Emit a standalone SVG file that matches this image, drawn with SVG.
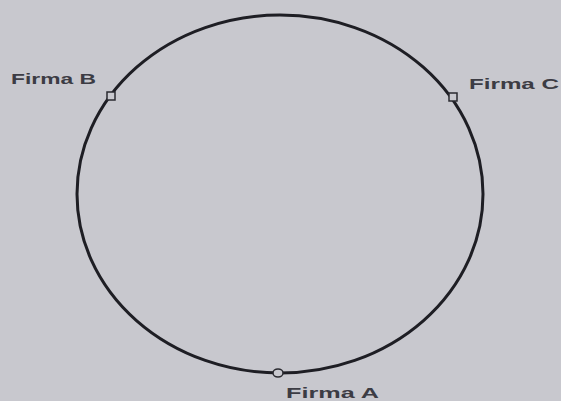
<svg xmlns="http://www.w3.org/2000/svg" width="561" height="401" viewBox="0 0 561 401">
<style>
.lbl{font-family:"Liberation Sans",Arial,sans-serif;font-weight:bold;font-size:15px;fill:#3c3c44}
.ring{fill:none;stroke:#1e1e24;stroke-width:3}
.pt{fill:#c9c9cf;stroke:#2a2a30;stroke-width:1.5}
</style>
<rect width="561" height="401" fill="#c8c8ce"/>
<g id="connectors">
<ellipse class="ring" cx="280" cy="194" rx="203" ry="179"/>
</g>
<g id="firmaB">
<rect class="pt" x="107" y="92" width="8" height="8"/>
<text class="lbl" x="11" y="84" textLength="85" lengthAdjust="spacingAndGlyphs">Firma B</text>
</g>
<g id="firmaC">
<rect class="pt" x="449" y="93" width="8" height="8"/>
<text class="lbl" x="469" y="89" textLength="90" lengthAdjust="spacingAndGlyphs">Firma C</text>
</g>
<g id="firmaA">
<ellipse class="pt" cx="278" cy="373" rx="5" ry="4"/>
<text class="lbl" x="286" y="398" textLength="93" lengthAdjust="spacingAndGlyphs">Firma A</text>
</g>
</svg>
